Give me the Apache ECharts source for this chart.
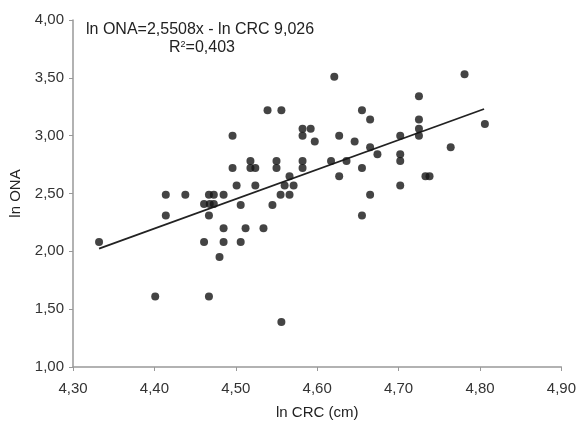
<!DOCTYPE html>
<html>
<head>
<meta charset="utf-8">
<script src="https://cdn.jsdelivr.net/npm/echarts@6/dist/echarts.min.js"></script>
<style>html,body{margin:0;padding:0;background:#fff}#c{width:579px;height:425px}</style>
</head>
<body>
<div id="c"></div>
<script>
var lnCRC = [4.332,4.401,4.414,4.414,4.438,4.461,4.461,4.467,4.473,4.468,4.473,4.467,4.467,4.480,4.485,4.485,4.485,4.496,4.496,4.501,4.506,4.506,4.512,4.518,4.518,4.524,4.524,4.534,4.539,4.545,4.550,4.550,4.556,4.555,4.556,4.560,4.566,4.566,4.571,4.582,4.582,4.582,4.582,4.592,4.597,4.617,4.621,4.627,4.627,4.636,4.646,4.655,4.655,4.655,4.665,4.665,4.665,4.674,4.702,4.702,4.702,4.702,4.725,4.725,4.725,4.725,4.733,4.738,4.764,4.781,4.806];
var lnONA = [2.08,1.61,2.49,2.31,2.49,2.41,2.08,2.49,2.49,2.41,2.41,2.31,1.61,1.95,2.49,2.20,2.08,3.00,2.72,2.57,2.40,2.08,2.20,2.78,2.72,2.72,2.57,2.20,3.22,2.40,2.78,2.72,3.22,2.49,1.39,2.57,2.49,2.65,2.57,3.06,3.00,2.78,2.72,3.06,2.95,2.78,3.51,3.00,2.65,2.78,2.95,3.22,2.72,2.31,3.14,2.90,2.49,2.84,3.00,2.84,2.78,2.57,3.34,3.14,3.06,3.00,2.65,2.65,2.90,3.53,3.10];
var slope = 2.5508, intercept = -9.026;
var lineX = [4.332, 4.805];
var xTicks = [4.30, 4.40, 4.50, 4.60, 4.70, 4.80, 4.90];
var yTicks = [1.00, 1.50, 2.00, 2.50, 3.00, 3.50, 4.00];
var eqText = 'ln ONA=2,5508x - ln CRC 9,026';
var r2Text = '{a|R}{s|2}{a|=0,403}';

var pts = lnCRC.map(function(x,i){return [x, lnONA[i]];});
var linePts = lineX.map(function(x){return [x, slope*x+intercept];});
function fmt(v){return v.toFixed(2).replace('.', ',');}
var FONT = '"Liberation Sans", Arial, sans-serif';
var chart = echarts.init(document.getElementById('c'));
chart.setOption({
  animation:false,
  backgroundColor:'#fff',
  grid:{left:73, right:16, top:20, bottom:52, containLabel:false},
  xAxis:{type:'value', min:xTicks[0], max:xTicks[xTicks.length-1], interval:0.1,
    name:'ln CRC (cm)', nameLocation:'middle', nameGap:38,
    nameTextStyle:{color:'#222', fontSize:15, fontFamily:FONT},
    axisLine:{lineStyle:{color:'#999', width:1.5}},
    axisTick:{show:true, inside:false, length:4, lineStyle:{color:'#999'}},
    axisLabel:{color:'#333', fontSize:15, fontFamily:FONT, margin:14, formatter:fmt},
    splitLine:{show:false}},
  yAxis:{type:'value', min:yTicks[0], max:yTicks[yTicks.length-1], interval:0.5,
    name:'ln ONA', nameLocation:'middle', nameGap:50,
    nameTextStyle:{color:'#222', fontSize:15, fontFamily:FONT},
    axisLine:{show:true, lineStyle:{color:'#999', width:1.5}},
    axisTick:{show:true, inside:false, length:4, lineStyle:{color:'#999'}},
    axisLabel:{color:'#333', fontSize:15, fontFamily:FONT, margin:9, formatter:fmt},
    splitLine:{show:false}},
  graphic:[
    {type:'text', left:86, top:22, style:{text:eqText, fill:'#222', font:'16px '+FONT}},
    {type:'text', left:169, top:40, style:{text:r2Text, fill:'#222', font:'16px '+FONT,
      rich:{a:{fontSize:16, fontFamily:FONT, fill:'#222'}, s:{fontSize:9, fontFamily:FONT, fill:'#222', verticalAlign:'top', padding:[0,0,7,0]}}}}
  ],
  series:[
    {type:'scatter', data:pts, symbol:'circle', symbolSize:8, itemStyle:{color:'#151515'}, z:3},
    {type:'line', data:linePts, showSymbol:false, symbol:'none', lineStyle:{color:'#222', width:1.8}, z:2}
  ]
});
</script>
</body>
</html>
